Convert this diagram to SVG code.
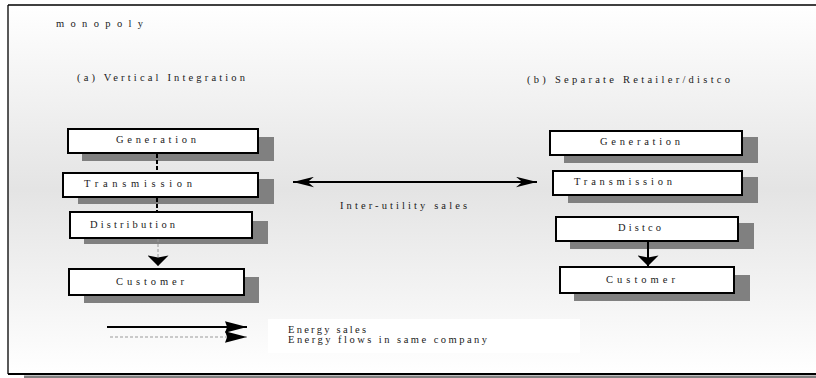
<svg xmlns="http://www.w3.org/2000/svg" width="816" height="378" viewBox="0 0 816 378">
<defs>
  <linearGradient id="bg" x1="0" y1="5" x2="0" y2="374" gradientUnits="userSpaceOnUse">
    <stop offset="0" stop-color="#ffffff"/>
    <stop offset="0.5" stop-color="#e4e4e4"/>
    <stop offset="1" stop-color="#ffffff"/>
  </linearGradient>
  <marker id="legendArrow" markerUnits="userSpaceOnUse" markerWidth="22" markerHeight="12" viewBox="0 0 21 11" refX="21" refY="5.5" orient="auto">
    <path d="M0,0 L21,5.5 L0,11 L2,5.5 Z" fill="#000"/>
  </marker>
  <marker id="barb" markerUnits="userSpaceOnUse" markerWidth="21" markerHeight="11" viewBox="0 0 20 10" refX="20" refY="5" orient="auto-start-reverse">
    <path d="M0,0 L20,5 L0,10 L6,5 Z" fill="#000"/>
  </marker>
  <marker id="down" markerUnits="userSpaceOnUse" markerWidth="11" markerHeight="21" viewBox="0 0 10 20" refX="10" refY="10" orient="auto">
    <path d="M0,0 L10,10 L0,20 L2,10 Z" fill="#000"/>
  </marker>
</defs>
<style>
  .shadow { fill: #808080; }
  .box { fill: #ffffff; stroke: #000; stroke-width: 2; }
  .t { font-family: "Liberation Serif", "Times New Roman", serif; font-size: 10.5px; fill: #1a1a1a; }
  .solid { stroke: #000; stroke-width: 2; fill: none; }
  .dashk { stroke: #000; stroke-width: 2; stroke-dasharray: 4 2; fill: none; }
  .dashg { stroke: #9a9a9a; stroke-width: 1; stroke-dasharray: 3 2; fill: none; }
</style>

<g id="frame">
  <rect x="8" y="5" width="808" height="369" fill="url(#bg)"/>
  <rect x="24" y="375.5" width="792" height="2.5" fill="#808080"/>
  <line x1="8" y1="5" x2="816" y2="5" stroke="#000" stroke-width="1.3"/>
  <line x1="8" y1="5" x2="8" y2="374" stroke="#000" stroke-width="1.3"/>
  <line x1="8" y1="374" x2="816" y2="374" stroke="#000" stroke-width="2"/>
</g>

<g id="titles">
  <text class="t" x="56" y="27" textLength="87" lengthAdjust="spacing">monopoly</text>
  <text class="t" x="77" y="81" textLength="168" lengthAdjust="spacing">(a) Vertical Integration</text>
  <text class="t" x="527" y="83" textLength="203" lengthAdjust="spacing">(b) Separate Retailer/distco</text>
</g>

<g id="legend-box">
  <rect x="268" y="319" width="312" height="34" fill="#ffffff"/>
</g>

<g id="a-generation">
  <rect class="shadow" x="82" y="137" width="192" height="24"/>
  <rect class="box" x="68" y="129" width="190" height="24"/>
  <text class="t" x="116" y="143" textLength="80" lengthAdjust="spacing">Generation</text>
</g>
<g id="a-transmission">
  <rect class="shadow" x="78" y="179" width="196" height="25"/>
  <rect class="box" x="63" y="173" width="195" height="24"/>
  <text class="t" x="84" y="187" textLength="108" lengthAdjust="spacing">Transmission</text>
</g>
<g id="a-distribution">
  <rect class="shadow" x="84" y="221" width="184" height="23"/>
  <rect class="box" x="70" y="212" width="182" height="26"/>
  <text class="t" x="90" y="228" textLength="85" lengthAdjust="spacing">Distribution</text>
</g>
<g id="a-customer">
  <rect class="shadow" x="84" y="277" width="175" height="26"/>
  <rect class="box" x="69" y="269" width="175" height="26"/>
  <text class="t" x="116" y="285" textLength="68" lengthAdjust="spacing">Customer</text>
</g>

<g id="b-generation">
  <rect class="shadow" x="564" y="137" width="194" height="26"/>
  <rect class="box" x="550" y="131" width="192" height="24"/>
  <text class="t" x="600" y="145" textLength="80" lengthAdjust="spacing">Generation</text>
</g>
<g id="b-transmission">
  <rect class="shadow" x="568" y="177" width="190" height="26"/>
  <rect class="box" x="553" y="171" width="189" height="24"/>
  <text class="t" x="574" y="185" textLength="98" lengthAdjust="spacing">Transmission</text>
</g>
<g id="b-distco">
  <rect class="shadow" x="570" y="223" width="184" height="26"/>
  <rect class="box" x="556" y="217" width="182" height="24"/>
  <text class="t" x="618" y="231" textLength="43" lengthAdjust="spacing">Distco</text>
</g>
<g id="b-customer">
  <rect class="shadow" x="574" y="275" width="176" height="26"/>
  <rect class="box" x="560" y="267" width="174" height="26"/>
  <text class="t" x="606" y="283" textLength="69" lengthAdjust="spacing">Customer</text>
</g>

<g id="connectors">
  <line class="dashk" x1="157" y1="154" x2="157" y2="172"/>
  <line class="dashk" x1="157" y1="198" x2="157" y2="211"/>
  <line class="dashg" x1="158" y1="239" x2="158" y2="266" marker-end="url(#down)"/>
  <line class="solid" x1="648" y1="242" x2="648" y2="266" marker-end="url(#down)"/>
  <line class="solid" x1="293" y1="182" x2="537" y2="182" marker-start="url(#barb)" marker-end="url(#barb)"/>
  <line class="solid" x1="107" y1="327" x2="247" y2="327" marker-end="url(#legendArrow)"/>
  <line class="dashg" x1="110" y1="337" x2="247" y2="337" marker-end="url(#legendArrow)"/>
</g>

<g id="labels">
  <text class="t" x="340" y="209" textLength="127" lengthAdjust="spacing">Inter-utility sales</text>
  <text class="t" x="288" y="333" textLength="78" lengthAdjust="spacing">Energy sales</text>
  <text class="t" x="288" y="343" textLength="199" lengthAdjust="spacing">Energy flows in same company</text>
</g>
</svg>
